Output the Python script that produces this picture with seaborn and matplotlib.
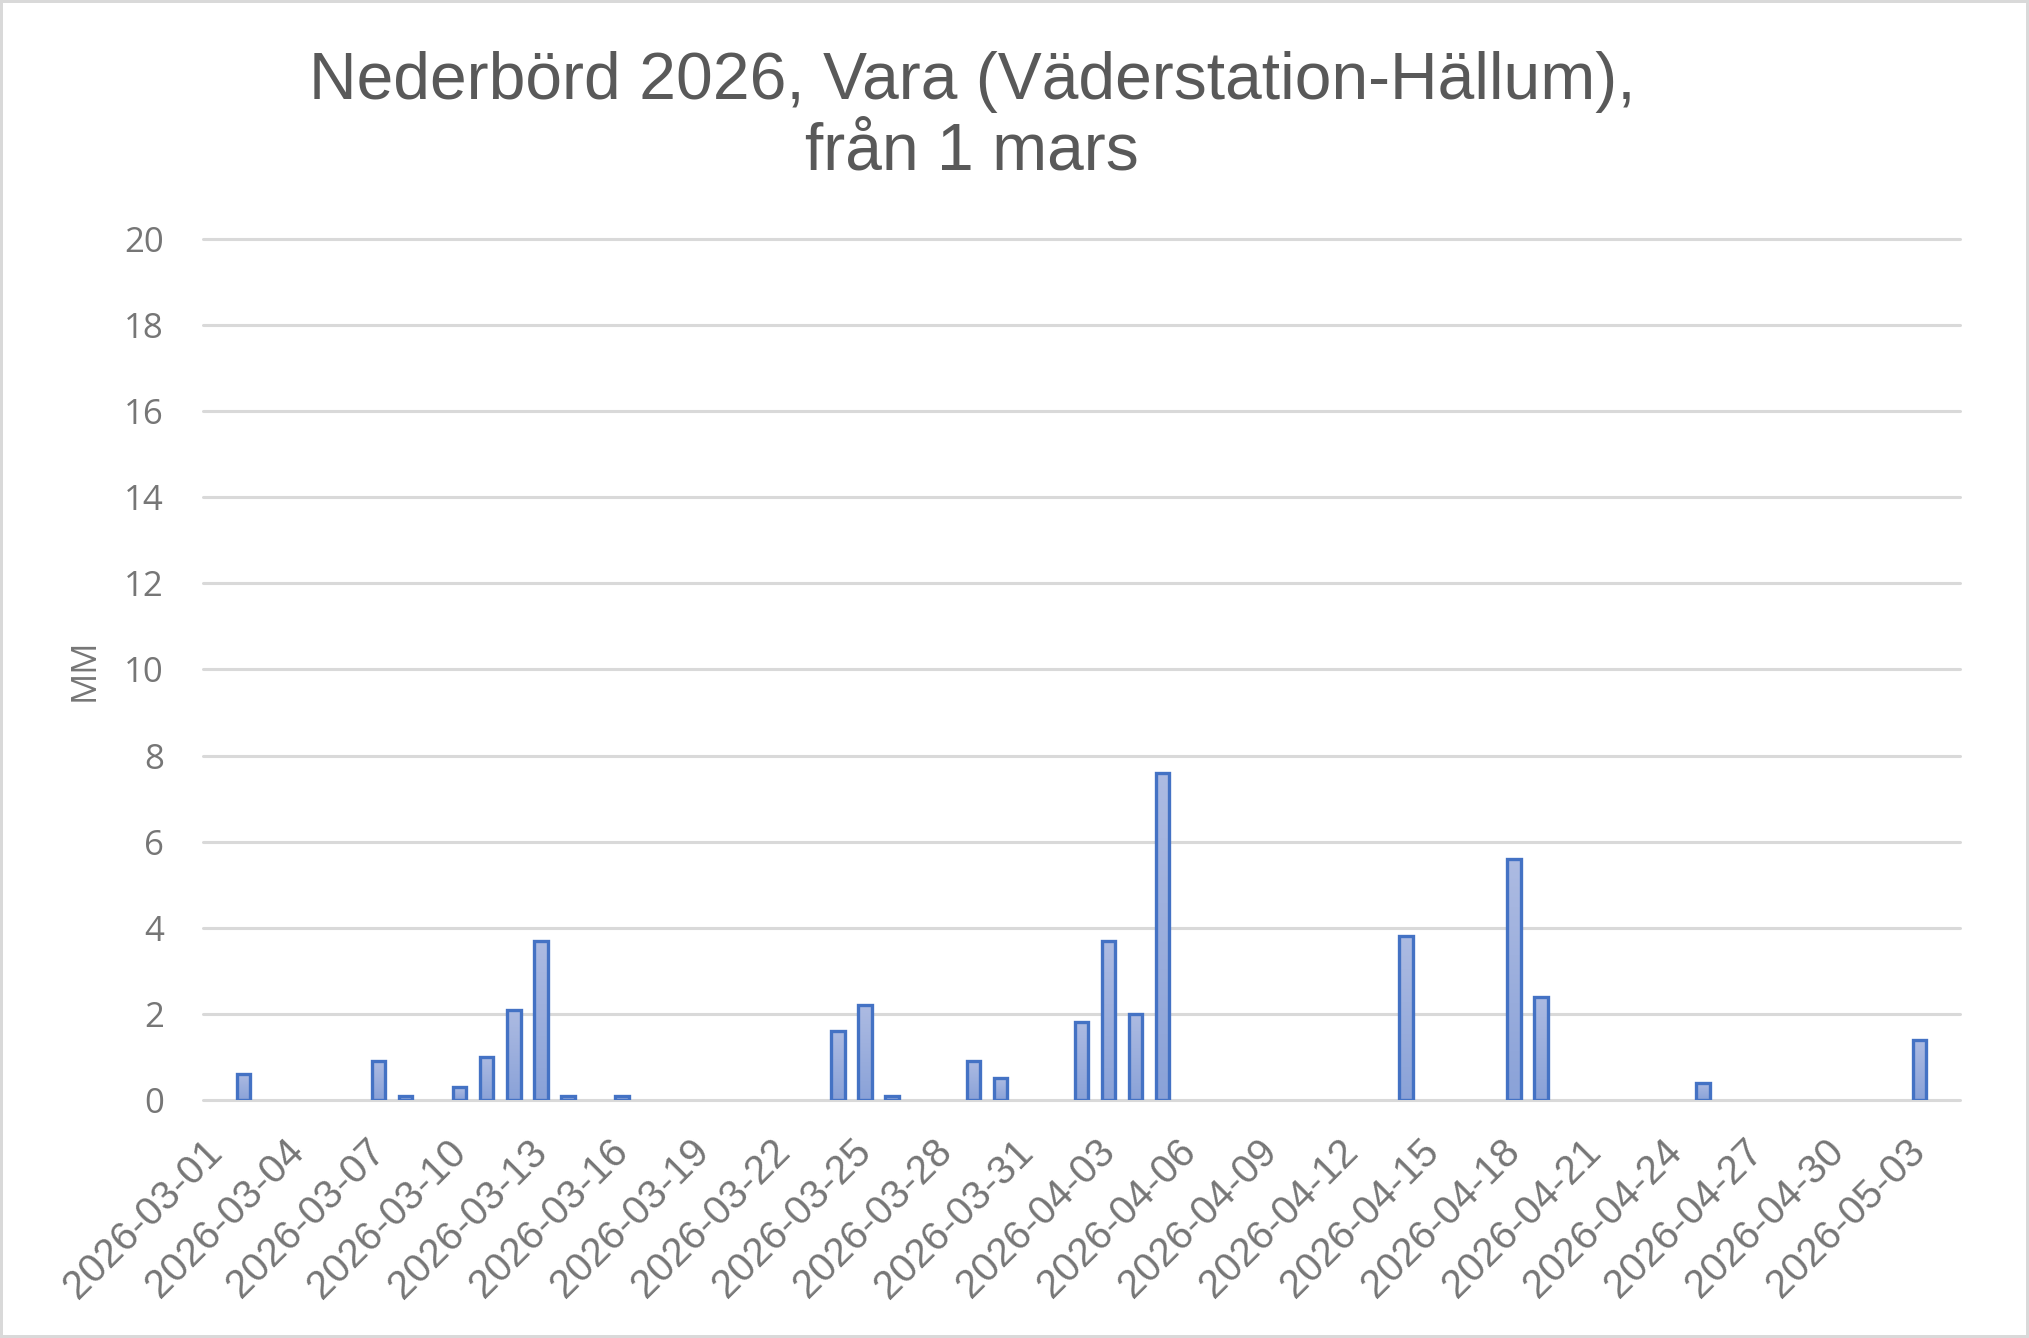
"""Nederbörd 2026, Vara - daily precipitation bars from 1 March."""
import matplotlib
matplotlib.use("Agg")
import matplotlib.pyplot as plt
import numpy as np
import pandas as pd
import seaborn as sns
from matplotlib.colors import LinearSegmentedColormap
from matplotlib.patches import Rectangle

# one category per day, 2026-03-01 .. 2026-05-04
dates = pd.date_range("2026-03-01", "2026-05-04", freq="D").strftime("%Y-%m-%d").tolist()

# mm per day
precip_mm = [
    0.0, 0.6, 0.0, 0.0, 0.0, 0.0, 0.9, 0.1, 0.0, 0.3,   # 03-01 .. 03-10
    1.0, 2.1, 3.7, 0.1, 0.0, 0.1, 0.0, 0.0, 0.0, 0.0,   # 03-11 .. 03-20
    0.0, 0.0, 0.0, 1.6, 2.2, 0.1, 0.0, 0.0, 0.9, 0.5,   # 03-21 .. 03-30
    0.0, 0.0, 1.8, 3.7, 2.0, 7.6, 0.0, 0.0, 0.0, 0.0,   # 03-31 .. 04-09
    0.0, 0.0, 0.0, 0.0, 3.8, 0.0, 0.0, 0.0, 5.6, 2.4,   # 04-10 .. 04-19
    0.0, 0.0, 0.0, 0.0, 0.0, 0.4, 0.0, 0.0, 0.0, 0.0,   # 04-20 .. 04-29
    0.0, 0.0, 0.0, 1.4, 0.0,                            # 04-30 .. 05-04
]
y_ticks = list(range(0, 21, 2))
title = "Nederbörd 2026, Vara (Väderstation-Hällum),\nfrån 1 mars"
y_label = "MM"

EDGE = "#4472C4"
GRID = "#D9D9D9"
TICK_COLOR = "#767676"
TITLE_COLOR = "#595959"

sns.set_theme(style="white")
plt.rcParams["font.family"] = ["Liberation Sans", "DejaVu Sans"]

fig = plt.figure(figsize=(20.29, 13.38), dpi=100)
ax = fig.add_axes([0.1000, 0.1779, 0.8660, 0.6435])

df = pd.DataFrame({"datum": dates, "mm": precip_mm})
sns.barplot(data=df, x="datum", y="mm", color="#9CAEDD", width=0.5,
            edgecolor=EDGE, linewidth=2.4, ax=ax)

# Excel-style vertical gradient fill inside each bar
cmap = LinearSegmentedColormap.from_list("bar", ["#8AA2D8", "#ADBBE2"])
grad = np.linspace(0, 1, 256).reshape(-1, 1)
for p in list(ax.patches):
    h = p.get_height()
    if h == 0:
        p.set_visible(False)
        continue
    x0, w = p.get_x(), p.get_width()
    im = ax.imshow(grad, cmap=cmap, origin="lower", aspect="auto",
                   extent=(x0, x0 + w, 0, h), zorder=0.9)
    im.set_clip_path(p)
    p.set_facecolor("none")
    p.set_zorder(1)

ax.set_xlim(-0.5, len(dates) - 0.5)
ax.set_ylim(0, 20)
ax.set_yticks(y_ticks)
ax.set_xticks(range(0, len(dates), 3))
ax.set_xticklabels(dates[::3], rotation=45, ha="right", va="center",
                   rotation_mode="anchor", fontsize=29, color=TICK_COLOR,
                   family=["Liberation Sans", "DejaVu Sans"])
for lbl in ax.get_yticklabels():
    lbl.set_fontsize(25)
    lbl.set_color(TICK_COLOR)
    lbl.set_family(["Open Sans", "DejaVu Sans"])
ax.tick_params(axis="y", length=0, pad=28)
ax.tick_params(axis="x", length=0, pad=33)

ax.set_xlabel("")
ax.set_ylabel(y_label, fontsize=25, color=TICK_COLOR,
              family=["Open Sans", "DejaVu Sans"], va="center")
ax.yaxis.set_label_coords(-0.0672, 0.5)

ax.set_axisbelow(True)
ax.yaxis.grid(True, color=GRID, linewidth=2.2)
ax.xaxis.grid(False)
for gl in ax.get_ygridlines():
    gl.set_clip_on(False)
sns.despine(ax=ax, left=True, bottom=True)

fig.text(0.479, 0.962, title, ha="center", va="top", multialignment="center",
         fontsize=47.5, color=TITLE_COLOR, linespacing=1.19)

# light grey chart-area frame
fig.patches.append(Rectangle((0, 0), 1, 1, transform=fig.transFigure, fill=False,
                             edgecolor=GRID, linewidth=4.3))

fig.savefig("out.png", dpi=100)
plt.close(fig)
